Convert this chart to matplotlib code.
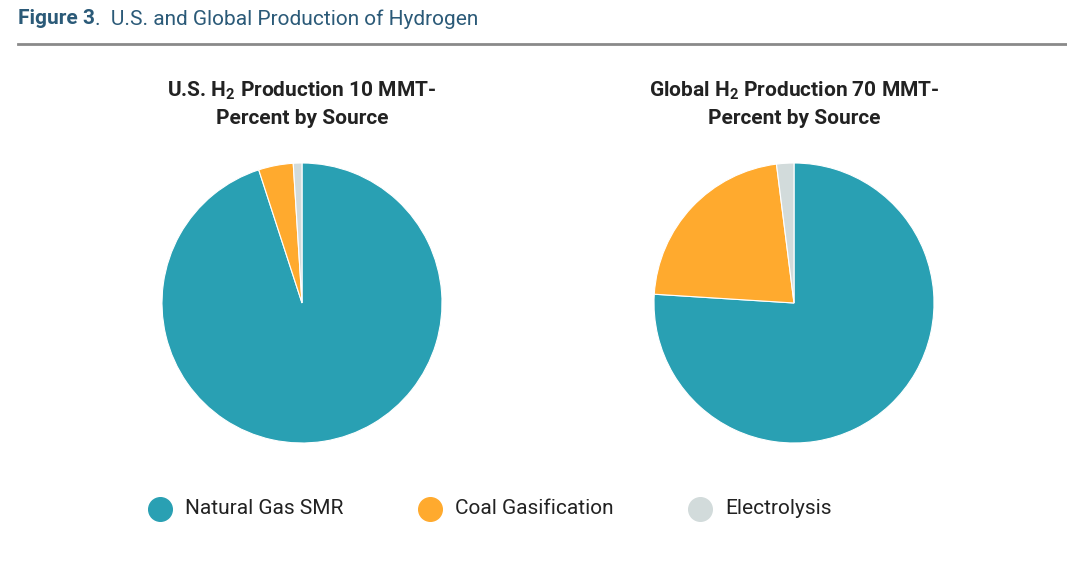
import matplotlib
matplotlib.use('Agg')
from matplotlib import pyplot as plt
from matplotlib.lines import Line2D

# Shares of hydrogen production by source (percent)
sources = ['Natural Gas SMR', 'Coal Gasification', 'Electrolysis']
us_share = [95, 4, 1]
global_share = [76, 22, 2]
colors = ['#29A0B3', '#FFAA2E', '#D2DBDB']

plt.rcParams['font.family'] = ['Roboto', 'DejaVu Sans']
plt.rcParams['mathtext.fontset'] = 'custom'
plt.rcParams['mathtext.rm'] = 'Roboto'
plt.rcParams['mathtext.bf'] = 'Roboto:bold'

W, H = 1067, 561
fig = plt.figure(figsize=(W / 100, H / 100), dpi=100)

# Header
t = fig.text(18 / W, 1 - 19 / H, 'Figure 3', fontsize=15, fontweight='bold',
             color='#2B5A78', va='center', ha='left')
fig.canvas.draw()
bb = t.get_window_extent(renderer=fig.canvas.get_renderer())
fig.text(bb.x1 / W, 1 - 19 / H, '.  U.S. and Global Production of Hydrogen',
         fontsize=15, color='#2B5A78', va='center', ha='left')
fig.add_artist(Line2D([18 / W, 1], [1 - 44 / H, 1 - 44 / H], color='#8A8A8A', lw=2))


def draw_pie(cx, share, title):
    r = 140
    ax = fig.add_axes([(cx - r) / W, 1 - (303 + r) / H, 2 * r / W, 2 * r / H])
    ax.pie(share, colors=colors, startangle=90, counterclock=False,
           wedgeprops={'linewidth': 0.8, 'edgecolor': 'white'})
    ax.set_xlim(-1, 1)
    ax.set_ylim(-1, 1)
    ax.set_aspect('equal')
    ax.axis('off')
    fig.text(cx / W, 1 - 104 / H, title, fontsize=15, fontweight='bold',
             color='#222222', ha='center', va='center', linespacing=1.45)


draw_pie(302, us_share, 'U.S. H$_\\mathbf{2}$ Production 10 MMT-\nPercent by Source')
draw_pie(794, global_share, 'Global H$_\\mathbf{2}$ Production 70 MMT-\nPercent by Source')

# Legend
leg_x = [160, 430, 700]
for x, name, c in zip(leg_x, sources, colors):
    fig.add_artist(Line2D([x / W], [1 - 509 / H], marker='o', markersize=17,
                          color=c, linestyle='none'))
    fig.text((x + 25) / W, 1 - 509 / H, name, fontsize=15, color='#222222',
             ha='left', va='center')

fig.savefig('out.png', dpi=100)
